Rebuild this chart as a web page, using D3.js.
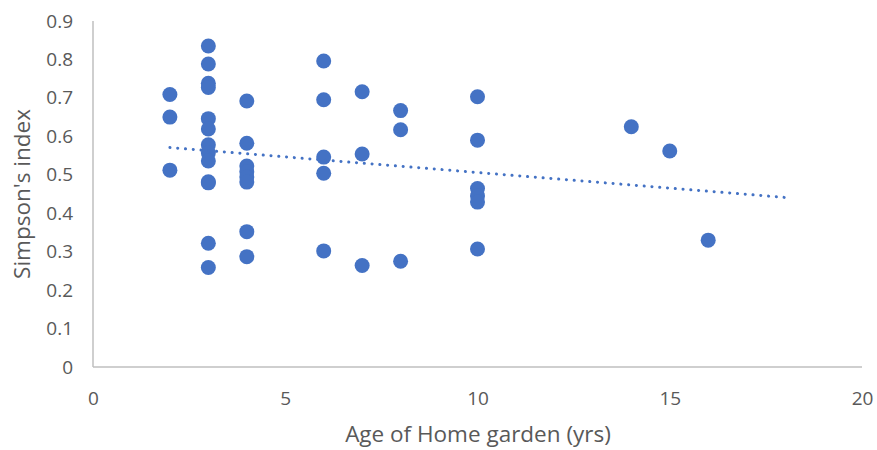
<!DOCTYPE html>
<html>
<head>
<meta charset="utf-8">
<script src="https://cdn.jsdelivr.net/npm/d3@7/dist/d3.min.js"></script>
<style>
  html, body { margin: 0; padding: 0; background: #fff; }
  svg text { font-family: "Open Sans", Lato, sans-serif; fill: #595959; }
</style>
</head>
<body>
<svg id="chart" width="877" height="450"></svg>
<script>
// Age of home garden (years) and Simpson's diversity index per garden
const ageYears = [
  2, 2, 2,
  3, 3, 3, 3, 3, 3, 3, 3, 3, 3, 3, 3, 3,
  4, 4, 4, 4, 4, 4, 4, 4,
  6, 6, 6, 6, 6,
  7, 7, 7,
  8, 8, 8,
  10, 10, 10, 10, 10, 10,
  14, 15, 16
];
const simpsonIndex = [
  0.709, 0.650, 0.512,
  0.835, 0.788, 0.738, 0.727, 0.646, 0.619, 0.578, 0.557, 0.536, 0.482, 0.479, 0.322, 0.259,
  0.692, 0.582, 0.523, 0.508, 0.494, 0.481, 0.352, 0.287,
  0.796, 0.695, 0.546, 0.504, 0.302,
  0.716, 0.554, 0.264,
  0.667, 0.617, 0.275,
  0.703, 0.590, 0.464, 0.445, 0.429, 0.307,
  0.625, 0.562, 0.330
];
const xTicks = [0, 5, 10, 15, 20];
const yTicks = [0, 0.1, 0.2, 0.3, 0.4, 0.5, 0.6, 0.7, 0.8, 0.9];
const trendForwardYears = 2;

const FONT = "'Open Sans', Lato, sans-serif";
const svg = d3.select("#chart");
const x = d3.scaleLinear().domain([0, 20]).range([93, 862]);
const y = d3.scaleLinear().domain([0, 0.9]).range([367, 21]);

// axis lines
svg.append("line").attr("x1", x(0)).attr("x2", x(20)).attr("y1", y(0)).attr("y2", y(0))
  .attr("stroke", "#bfbfbf").attr("stroke-width", 1.5);
svg.append("line").attr("x1", x(0)).attr("x2", x(0)).attr("y1", y(0)).attr("y2", y(0.9))
  .attr("stroke", "#bfbfbf").attr("stroke-width", 1.5);

// tick labels
const xAxis = d3.axisBottom(x).tickValues(xTicks).tickSize(0).tickPadding(0).tickFormat(d3.format("d"));
const gx = svg.append("g").attr("transform", `translate(0,${y(0) + 31})`).call(xAxis);
gx.select(".domain").remove();
gx.selectAll("text").attr("font-size", 19).attr("dy", "0.35em").attr("fill", "#595959")
  .style("font-family", FONT);

const yAxis = d3.axisLeft(y).tickValues(yTicks).tickSize(0).tickPadding(0)
  .tickFormat(d => d === 0 ? "0" : d3.format(".1f")(d));
const gy = svg.append("g").attr("transform", `translate(${x(0) - 20},0)`).call(yAxis);
gy.select(".domain").remove();
gy.selectAll("text").attr("font-size", 19).attr("fill", "#595959")
  .style("font-family", FONT);

// axis titles
svg.append("text").attr("x", 478).attr("y", 442).attr("text-anchor", "middle")
  .attr("font-size", 22.5).text("Age of Home garden (yrs)");
svg.append("text").attr("transform", `translate(30,${y(0.45)}) rotate(-90)`)
  .attr("text-anchor", "middle").attr("font-size", 22.5).text("Simpson's index");

// points
const pts = ageYears.map((a, i) => ({ a, s: simpsonIndex[i] }));
svg.append("g").selectAll("circle").data(pts).join("circle")
  .attr("cx", d => x(d.a)).attr("cy", d => y(d.s)).attr("r", 7.5)
  .attr("fill", "#4472c4");

// linear least-squares trend, extended forward
const mx = d3.mean(ageYears), my = d3.mean(simpsonIndex);
const sxy = d3.sum(pts, d => (d.a - mx) * (d.s - my));
const sxx = d3.sum(pts, d => (d.a - mx) ** 2);
const slope = sxy / sxx, intercept = my - slope * mx;
const x0 = d3.min(ageYears), x1 = d3.max(ageYears) + trendForwardYears;
svg.append("line")
  .attr("x1", x(x0)).attr("y1", y(intercept + slope * x0))
  .attr("x2", x(x1)).attr("y2", y(intercept + slope * x1))
  .attr("stroke", "#4472c4").attr("stroke-width", 3)
  .attr("stroke-linecap", "round").attr("stroke-dasharray", "0.1 7.7");
</script>
</body>
</html>
